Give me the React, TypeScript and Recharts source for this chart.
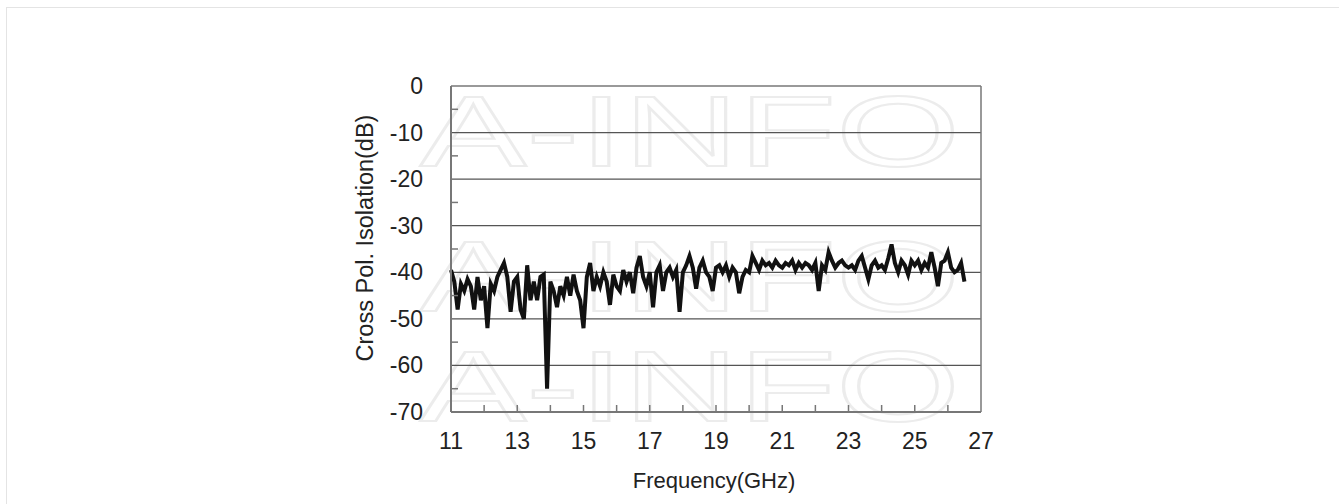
import React from 'react';
import { LineChart, Line, XAxis, YAxis, ReferenceLine } from 'recharts';

const freq = [
  11.0, 11.1, 11.2, 11.3, 11.4, 11.5, 11.6, 11.7, 11.8, 11.9,
  12.0, 12.1, 12.2, 12.3, 12.4, 12.5, 12.6, 12.7, 12.8, 12.9,
  13.0, 13.1, 13.2, 13.3, 13.4, 13.5, 13.6, 13.7, 13.8, 13.9,
  14.0, 14.1, 14.2, 14.3, 14.4, 14.5, 14.6, 14.7, 14.8, 14.9,
  15.0, 15.1, 15.2, 15.3, 15.4, 15.5, 15.6, 15.7, 15.8, 15.9,
  16.0, 16.1, 16.2, 16.3, 16.4, 16.5, 16.6, 16.7, 16.8, 16.9,
  17.0, 17.1, 17.2, 17.3, 17.4, 17.5, 17.6, 17.7, 17.8, 17.9,
  18.0, 18.1, 18.2, 18.3, 18.4, 18.5, 18.6, 18.7, 18.8, 18.9,
  19.0, 19.1, 19.2, 19.3, 19.4, 19.5, 19.6, 19.7, 19.8, 19.9,
  20.0, 20.1, 20.2, 20.3, 20.4, 20.5, 20.6, 20.7, 20.8, 20.9,
  21.0, 21.1, 21.2, 21.3, 21.4, 21.5, 21.6, 21.7, 21.8, 21.9,
  22.0, 22.1, 22.2, 22.3, 22.4, 22.5, 22.6, 22.7, 22.8, 22.9,
  23.0, 23.1, 23.2, 23.3, 23.4, 23.5, 23.6, 23.7, 23.8, 23.9,
  24.0, 24.1, 24.2, 24.3, 24.4, 24.5, 24.6, 24.7, 24.8, 24.9,
  25.0, 25.1, 25.2, 25.3, 25.4, 25.5, 25.6, 25.7, 25.8, 25.9,
  26.0, 26.1, 26.2, 26.3, 26.4, 26.5,
];

const isolation = [
  -39.5, -42, -48, -42.5, -44, -41.5, -43, -48, -41, -46,
  -43, -52, -42.5, -44, -41, -39.5, -38, -41, -48.5, -42,
  -41, -48, -50, -38.5, -46, -42, -46, -41, -40.5, -65,
  -42, -44, -47.5, -43, -45, -41, -45, -40.5, -44, -46,
  -52, -41, -38, -44, -41, -43, -40, -42, -47, -40.5,
  -43, -44, -39.5, -42, -40, -44.5, -39, -36.5, -41, -43,
  -40, -47.5, -40, -38.5, -44, -40, -39, -41, -39.5, -48.5,
  -40, -38.5, -36.5, -39, -43.5, -39, -37.5, -40, -41, -44,
  -39, -38.5, -40, -38.5, -41, -39, -40, -44.5, -41, -39.5,
  -40, -36.5, -38, -39.5, -37.5, -38.5, -38, -39, -37.5, -38.5,
  -39, -38, -38.5, -37.5, -39.5, -38, -39, -38, -38.5, -39.5,
  -38, -44, -38.5, -39.5, -35.7, -37.5, -39, -38, -37.5, -38.5,
  -39, -38.5, -39.5, -37.5, -36.5, -39, -41.5, -38.5, -37.5, -39,
  -38.5, -39.5, -37, -34, -38, -40, -37.5, -38.5, -40.5, -37.5,
  -38.5, -37.5, -39.5, -38, -39, -35.7, -39, -43, -38, -37.5,
  -35.7, -39, -40, -39.5, -38, -42,
];

const xTicks = [11, 12, 13, 14, 15, 16, 17, 18, 19, 20, 21, 22, 23, 24, 25, 26, 27];
const xLabels = [11, 13, 15, 17, 19, 21, 23, 25, 27];
const yTicks = [0, -5, -10, -15, -20, -25, -30, -35, -40, -45, -50, -55, -60, -65, -70];
const gridLevels = [-10, -20, -30, -40, -50, -60];
const watermarkRows = [166, 311, 421];

const data = freq.map((f, i) => ({ f, v: isolation[i] }));

const FONT = '"Liberation Sans", Arial, sans-serif';
const AXIS = '#777';

const XTick = (props: any) => {
  const { x, y, payload } = props;
  const v = payload.value;
  return (
    <g>
      {v > 11 && v < 27 && (
        <line x1={x} x2={x} y1={y} y2={y - 7} stroke={AXIS} strokeWidth={1.5} />
      )}
      {xLabels.includes(v) && (
        <text x={x} y={y + 37} textAnchor="middle" fontSize={23} fontFamily={FONT} fill="#222">
          {v}
        </text>
      )}
    </g>
  );
};

const YTick = (props: any) => {
  const { x, y, payload } = props;
  const v = payload.value;
  if (v % 10 !== 0) {
    return <line x1={x} x2={x + 7} y1={y} y2={y} stroke={AXIS} strokeWidth={1.5} />;
  }
  return (
    <text x={x - 28} y={y + 8} textAnchor="end" fontSize={23} fontFamily={FONT} fill="#222">
      {v}
    </text>
  );
};

export default function App() {
  return (
    <div style={{ position: 'absolute', left: 0, top: 0, width: 1339, height: 504, background: '#fff', overflow: 'hidden' }}>
      {/* faint frame round the figure */}
      <div style={{ position: 'absolute', left: 6, top: 7, width: 1340, height: 520, borderTop: '1px solid #e4e4e4', borderLeft: '1px solid #e4e4e4' }} />

      {/* watermark and axis titles */}
      <svg width={1339} height={504} style={{ position: 'absolute', left: 0, top: 0 }}>
        {watermarkRows.map((by) => (
          <text
            key={by}
            x={420}
            y={by}
            fontSize={100}
            fontFamily={FONT}
            textLength={540}
            lengthAdjust="spacingAndGlyphs"
            fill="none"
            stroke="#ececec"
            strokeWidth={2}
          >
            A-INFO
          </text>
        ))}
        <text x={714} y={488} textAnchor="middle" fontSize={22} fontFamily={FONT} fill="#222">
          Frequency(GHz)
        </text>
        <text
          x={0}
          y={0}
          transform="translate(373,238) rotate(-90)"
          textAnchor="middle"
          fontSize={23.5}
          fontFamily={FONT}
          fill="#222"
        >
          Cross Pol. Isolation(dB)
        </text>
      </svg>

      <div style={{ position: 'absolute', left: 0, top: 0 }}>
        <LineChart width={1339} height={504} data={data} margin={{ top: 86, right: 358, bottom: 0, left: 0 }}>
          {gridLevels.map((g) => (
            <ReferenceLine key={g} y={g} stroke="#555" strokeWidth={1.2} />
          ))}
          <ReferenceLine y={0} stroke={AXIS} strokeWidth={1.5} />
          <ReferenceLine x={27} stroke={AXIS} strokeWidth={1.5} />
          <XAxis
            dataKey="f"
            type="number"
            domain={[11, 27]}
            ticks={xTicks}
            interval={0}
            height={92}
            tickSize={0}
            tickMargin={0}
            tickLine={false}
            axisLine={{ stroke: AXIS, strokeWidth: 2 }}
            tick={<XTick />}
          />
          <YAxis
            type="number"
            domain={[-70, 0]}
            ticks={yTicks}
            interval={0}
            width={451}
            tickSize={0}
            tickMargin={0}
            tickLine={false}
            axisLine={{ stroke: AXIS, strokeWidth: 2 }}
            tick={<YTick />}
          />
          <Line
            type="linear"
            dataKey="v"
            stroke="#111"
            strokeWidth={4}
            dot={false}
            isAnimationActive={false}
          />
        </LineChart>
      </div>
    </div>
  );
}
